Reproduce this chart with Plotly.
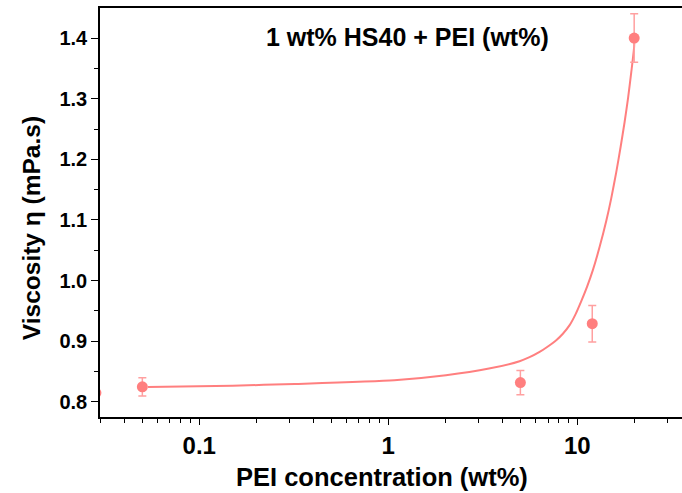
import plotly.graph_objects as go

# Measured data (PEI concentration wt%, viscosity mPa.s, error)
conc = [0.0284, 0.05, 5, 12, 20]
visc = [0.815, 0.825, 0.832, 0.929, 1.400]
err = [0.015, 0.015, 0.020, 0.030, 0.040]

# Fit curve
fit_x = [0.0536, 0.15, 0.32, 1.076, 2.02, 3.41, 4.95, 5.59, 6.32, 6.96, 7.74, 8.39, 9.11, 9.77,
         10.50, 11.27, 12.09, 13.12, 14.23, 15.13, 16.08, 16.95, 17.80, 18.57, 19.31, 19.97, 20.05]
fit_y = [0.8248, 0.8268, 0.8297, 0.8358, 0.844, 0.855, 0.8672, 0.8738, 0.8825, 0.8911, 0.9018, 0.9125,
         0.9266, 0.9439, 0.9662, 0.9901, 1.0173, 1.0553, 1.0982, 1.1361, 1.179, 1.2203, 1.2616, 1.3012,
         1.344, 1.3837, 1.3967]

x_major = [0.1, 1, 10]
x_major_text = ["0.1", "1", "10"]
x_minor = [0.03, 0.04, 0.05, 0.06, 0.07, 0.08, 0.09,
           0.2, 0.3, 0.4, 0.5, 0.6, 0.7, 0.8, 0.9,
           2, 3, 4, 5, 6, 7, 8, 9, 20, 30]
y_major = [0.8, 0.9, 1.0, 1.1, 1.2, 1.3, 1.4]
y_major_text = ["0.8", "0.9", "1.0", "1.1", "1.2", "1.3", "1.4"]

color = "#FF7F7F"
font = "Liberation Sans"

L, T, W, H = 100, 8, 582, 408.7

def px(xp):
    return (xp - L) / W

def py(yp):
    return (T + H - yp) / H

fig = go.Figure()
fig.add_trace(go.Scatter(x=fit_x, y=fit_y, mode="lines",
                         line=dict(color=color, width=2, shape="spline", smoothing=0.6),
                         showlegend=False, hoverinfo="skip"))
fig.add_trace(go.Scatter(x=conc, y=visc, mode="markers",
                         marker=dict(color=color, size=11),
                         error_y=dict(type="data", array=err, color="#FFA0A0", thickness=1.5, width=4),
                         showlegend=False, cliponaxis=True))

fig.add_annotation(text="<b>1 wt% HS40 + PEI (wt%)</b>", xref="paper", yref="paper",
                   x=px(407), y=py(37), xanchor="center", yanchor="middle",
                   showarrow=False, font=dict(family=font, size=25, color="black"))
fig.add_annotation(text="<b>PEI concentration (wt%)</b>", xref="paper", yref="paper",
                   x=px(382), y=py(477), xanchor="center", yanchor="middle",
                   showarrow=False, font=dict(family=font, size=25.5, color="black"))
fig.add_annotation(text="<b>Viscosity η (mPa.s)</b>", xref="paper", yref="paper", textangle=-90,
                   x=px(31), y=py(228), xanchor="center", yanchor="middle",
                   showarrow=False, font=dict(family=font, size=24.5, color="black"))

fig.update_layout(
    width=682, height=493,
    margin=dict(l=100, r=0, t=8, b=76),
    plot_bgcolor="white", paper_bgcolor="white",
    xaxis=dict(type="log", range=[-1.525, 1.554], showgrid=False, zeroline=False,
               showline=True, linecolor="black", linewidth=1.5, mirror=True,
               tickmode="array", tickvals=x_major, ticktext=["<b>%s</b>" % t for t in x_major_text],
               ticks="outside", ticklen=6, tickwidth=1.2, tickcolor="black",
               tickfont=dict(family=font, size=24, color="black"),
               minor=dict(tickmode="array", tickvals=x_minor, ticks="outside", ticklen=4, tickwidth=1,
                          tickcolor="black", showgrid=False)),
    yaxis=dict(range=[0.7752, 1.4495], showgrid=False, zeroline=False,
               showline=True, linecolor="black", linewidth=1.5, mirror=False,
               tickmode="array", tickvals=y_major, ticktext=["<b>%s</b>" % t for t in y_major_text],
               ticks="outside", ticklen=7, tickwidth=1.2, tickcolor="black",
               tickfont=dict(family=font, size=20, color="black"),
               minor=dict(dtick=0.05, tick0=0.75, ticks="outside", ticklen=4, tickwidth=1,
                          tickcolor="black", showgrid=False)),
)

fig.write_html("out.html")
